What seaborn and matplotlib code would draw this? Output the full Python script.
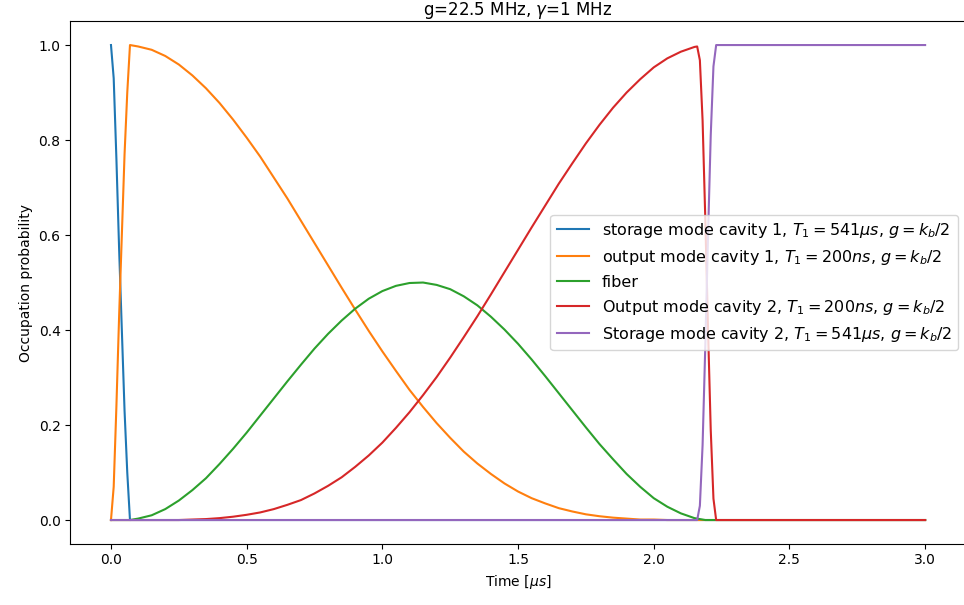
import numpy as np
import pandas as pd
import matplotlib
matplotlib.use('Agg')
import matplotlib.pyplot as plt
import seaborn as sns

# time axis in microseconds
time_us = [0.00, 0.01, 0.02, 0.03, 0.04, 0.05, 0.06, 0.07,
           0.10, 0.15, 0.20, 0.25, 0.30, 0.35, 0.40, 0.45, 0.50, 0.55,
           0.60, 0.65, 0.70, 0.75, 0.80, 0.85, 0.90, 0.95, 1.00, 1.05,
           1.10, 1.15, 1.20, 1.25, 1.30, 1.35, 1.40, 1.45, 1.50, 1.55,
           1.60, 1.65, 1.70, 1.75, 1.80, 1.85, 1.90, 1.95, 2.00, 2.05,
           2.10, 2.15,
           2.16, 2.17, 2.18, 2.19, 2.20, 2.21, 2.22, 2.23, 2.50, 3.00]

storage1 = [1.0, 0.93, 0.76, 0.57, 0.40, 0.23, 0.10, 0.0] + [0.0] * 52

output1 = [0.0, 0.07, 0.24, 0.43, 0.60, 0.77, 0.90, 1.0,
           0.997, 0.990, 0.977, 0.959, 0.936, 0.909, 0.878, 0.843, 0.805, 0.765,
           0.721, 0.677, 0.630, 0.583, 0.536, 0.489, 0.443, 0.398, 0.355, 0.314,
           0.274, 0.238, 0.204, 0.173, 0.144, 0.119, 0.097, 0.077, 0.060, 0.046,
           0.035, 0.025, 0.018, 0.012, 0.008, 0.005, 0.003, 0.001, 0.001, 0.0,
           0.0, 0.0,
           0.0, 0.0, 0.0, 0.0, 0.0, 0.0, 0.0, 0.0, 0.0, 0.0]

fiber = [0.0] * 8 + [
           0.003, 0.010, 0.023, 0.041, 0.063, 0.088, 0.118, 0.150, 0.184, 0.220,
           0.256, 0.292, 0.327, 0.361, 0.392, 0.420, 0.445, 0.466, 0.482, 0.493,
           0.499, 0.500, 0.495, 0.486, 0.471, 0.452, 0.428, 0.401, 0.371, 0.338,
           0.303, 0.267, 0.231, 0.195, 0.160, 0.128, 0.097, 0.070, 0.046, 0.028,
           0.014, 0.004,
           0.003, 0.002, 0.001, 0.0, 0.0, 0.0, 0.0, 0.0, 0.0, 0.0]

output2 = [0.0] * 8 + [
           0.0, 0.0, 0.0, 0.0, 0.001, 0.002, 0.004, 0.007, 0.011, 0.016,
           0.023, 0.032, 0.042, 0.056, 0.072, 0.090, 0.112, 0.136, 0.163, 0.194,
           0.227, 0.263, 0.301, 0.342, 0.385, 0.429, 0.475, 0.522, 0.569, 0.616,
           0.662, 0.708, 0.751, 0.793, 0.832, 0.868, 0.900, 0.928, 0.953, 0.972,
           0.986, 0.996,
           0.997, 0.968, 0.841, 0.633, 0.403, 0.190, 0.045, 0.0, 0.0, 0.0]

storage2 = [0.0] * 50 + [0.0, 0.030, 0.158, 0.367, 0.597, 0.810, 0.955, 1.0, 1.0, 1.0]

labels = [r'storage mode cavity 1, $T_1 = 541 \mu s$, $g = k_b/2$',
          r'output mode cavity 1, $T_1 = 200 ns$, $g = k_b/2$',
          'fiber',
          r'Output mode cavity 2, $T_1 = 200 ns$, $g = k_b/2$',
          r'Storage mode cavity 2, $T_1 = 541 \mu s$, $g = k_b/2$']
series = [storage1, output1, fiber, output2, storage2]

frames = []
for lab, vals in zip(labels, series):
    frames.append(pd.DataFrame({'time': time_us, 'prob': vals, 'mode': lab}))
df = pd.concat(frames, ignore_index=True)

fig = plt.figure(figsize=(9.64, 6.05), dpi=100)
ax = fig.add_axes([0.0729, 0.1012, 0.929, 0.8636])

sns.lineplot(data=df, x='time', y='prob', hue='mode', hue_order=labels,
             palette=sns.color_palette('tab10', 5), estimator=None,
             linewidth=1.5, ax=ax)

# title sits at the top edge, keep it just inside the canvas
ax.set_title(r'g=22.5 MHz, $\gamma$=1 MHz', pad=2)
ax.set_xlabel(r'Time [$\mu s$]')
ax.set_ylabel('Occupation probability')
sns.move_legend(ax, 'center right', title=None, fontsize=11.5)

fig.savefig('out.png', dpi=100)
